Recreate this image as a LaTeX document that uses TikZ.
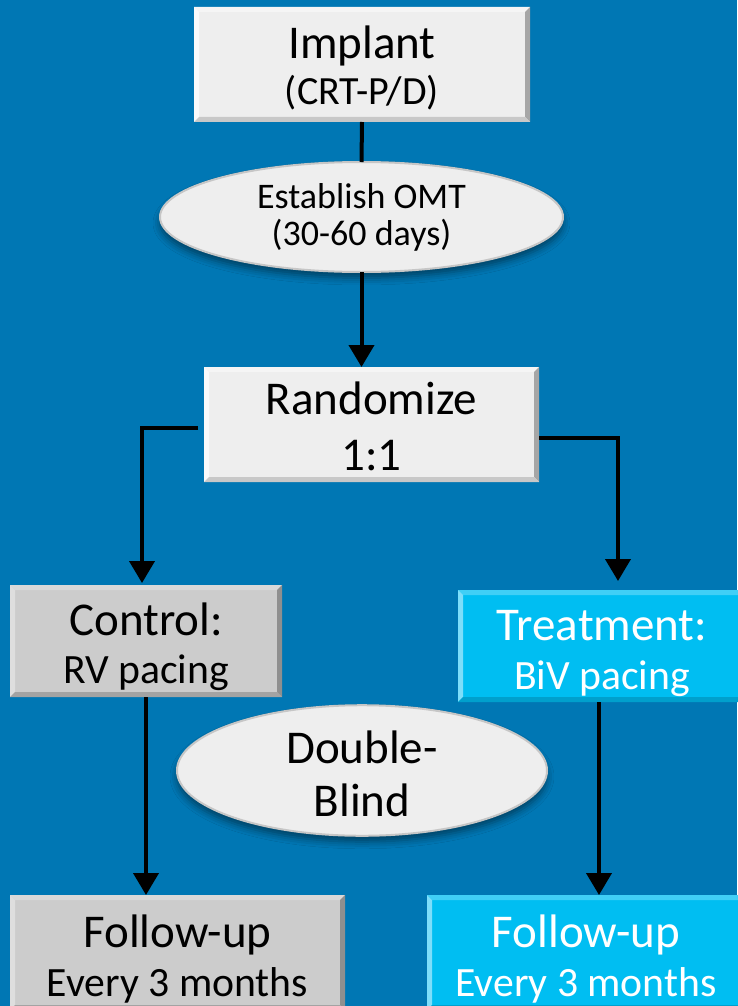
\documentclass[tikz,border=0pt]{standalone}
\usepackage{fontspec}
\setmainfont{Carlito}
\usetikzlibrary{arrows.meta,shapes.geometric,shadows.blur}

\definecolor{bg}{RGB}{0,119,180}
\definecolor{paleface}{RGB}{238,238,238}
\definecolor{paletop}{RGB}{245,245,245}
\definecolor{paleleft}{RGB}{250,250,250}
\definecolor{paleright}{RGB}{166,166,166}
\definecolor{palebottom}{RGB}{200,200,200}
\definecolor{greyface}{RGB}{204,204,204}
\definecolor{greytop}{RGB}{217,217,217}
\definecolor{greyleft}{RGB}{222,222,222}
\definecolor{greyright}{RGB}{143,143,143}
\definecolor{greybottom}{RGB}{163,163,163}
\definecolor{cyanface}{RGB}{0,190,242}
\definecolor{cyantop}{RGB}{64,207,246}
\definecolor{cyanleft}{RGB}{125,222,250}
\definecolor{cyanright}{RGB}{0,150,195}
\definecolor{cyanbottom}{RGB}{0,160,205}
\definecolor{ovalrim}{RGB}{198,198,198}

\newcommand\fs[2]{\fontsize{#1}{#2}\selectfont}
% invisible strut that lowers a text block inside its node
\newcommand\lift[1]{\rule{0pt}{#1}}

% bevelled edges of a box: node, width, top, left, right, bottom colours
\newcommand\bevel[6]{%
  \fill[#3] (#1.north west) -- (#1.north east) -- ([xshift=-#2,yshift=-#2]#1.north east) -- ([xshift=#2,yshift=-#2]#1.north west) -- cycle;
  \fill[#4] (#1.north west) -- (#1.south west) -- ([xshift=#2,yshift=#2]#1.south west) -- ([xshift=#2,yshift=-#2]#1.north west) -- cycle;
  \fill[#5] (#1.north east) -- (#1.south east) -- ([xshift=-#2,yshift=#2]#1.south east) -- ([xshift=-#2,yshift=-#2]#1.north east) -- cycle;
  \fill[#6] (#1.south west) -- (#1.south east) -- ([xshift=-#2,yshift=#2]#1.south east) -- ([xshift=#2,yshift=#2]#1.south west) -- cycle;
}

\tikzset{
  box/.style={rectangle, inner sep=0pt, outer sep=0pt, align=center},
  palebox/.style={box, fill=paleface, text=black},
  greybox/.style={box, fill=greyface, text=black},
  cyanbox/.style={box, fill=cyanface, text=white},
  oval/.style={ellipse, inner sep=0pt, outer sep=0pt, align=center,
    fill=paleface, draw=ovalrim, line width=2pt,
    blur shadow={shadow xshift=0pt, shadow yshift=-6pt, shadow blur radius=7pt, shadow opacity=45}},
  link/.style={line width=4pt, draw=black},
  arrow/.style={link, -{Triangle[width=25pt,length=22pt]}},
}

\begin{document}
\begin{tikzpicture}[x=1pt, y=-1pt]
  \useasboundingbox (0,0) rectangle (737,1006);
  \fill[bg] (0,0) rectangle (737,1006);

  % top chain
  \node[palebox, minimum width=336pt, minimum height=115pt, font=\fs{47}{46}] (implant) at (362,64.5)
    {\lift{40pt}Implant\\\fs{40}{46}(CRT-P/D)};
  \node[oval, minimum width=403pt, minimum height=110pt, font=\fs{36}{37}] (omt) at (361.5,217)
    {Establish OMT\\(30-60 days)};
  \node[palebox, minimum width=335pt, minimum height=115pt, font=\fs{47}{56}] (rand) at (371.5,424.5)
    {\lift{36pt}Randomize\\1:1};

  % arms
  \node[greybox, minimum width=272pt, minimum height=112pt, font=\fs{47}{48}] (ctrl) at (146,641)
    {\lift{45pt}Control:\\\fs{41.7}{48}RV pacing};
  \node[cyanbox, minimum width=288pt, minimum height=112pt, font=\fs{47}{49}] (treat) at (602,646)
    {\lift{46pt}Treatment:\\\fs{41.7}{49}BiV pacing};
  \node[oval, minimum width=370pt, minimum height=113pt, font=\fs{47}{53}] (blind) at (362,770.5)
    {\lift{39pt}Double-\\Blind};

  % follow-up
  \node[greybox, minimum width=335pt, minimum height=115pt, font=\fs{47}{49}] (fuL) at (177.5,952.5)
    {\lift{45pt}Follow-up\\\fs{41.7}{49}Every 3 months};
  \node[cyanbox, minimum width=318pt, minimum height=115pt, font=\fs{47}{49}] (fuR) at (586,952.5)
    {\lift{45pt}Follow-up\\\fs{41.7}{49}Every 3 months};

  \bevel{implant}{5pt}{paletop}{paleleft}{paleright}{palebottom}
  \bevel{rand}{5pt}{paletop}{paleleft}{paleright}{palebottom}
  \bevel{ctrl}{5pt}{greytop}{greyleft}{greyright}{greybottom}
  \bevel{fuL}{5pt}{greytop}{greyleft}{greyright}{greybottom}
  \bevel{treat}{5pt}{cyantop}{cyanleft}{cyanright}{cyanbottom}
  \bevel{fuR}{5pt}{cyantop}{cyanleft}{cyanright}{cyanbottom}

  % connectors
  \draw[link] (implant.south) -- (omt.north);
  \draw[arrow] (omt.south) -- (omt.south |- rand.north);
  \draw[arrow] ([xshift=-6pt,yshift=-3.5pt]rand.west) -| ([xshift=-4pt,yshift=2pt]ctrl.north);
  \draw[arrow] ([yshift=-13.5pt]rand.east) -| ([xshift=16pt,yshift=9pt]treat.north);
  \draw[arrow] (ctrl.south) -- (ctrl.south |- fuL.north);
  \draw[arrow] ([xshift=-3pt]treat.south) -- ([xshift=-3pt]treat.south |- fuR.north);
\end{tikzpicture}
\end{document}
